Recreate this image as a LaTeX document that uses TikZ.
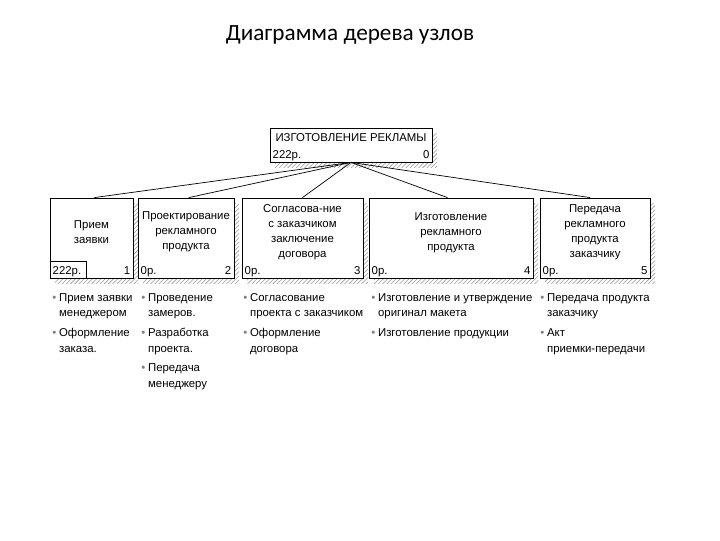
\documentclass[tikz,border=0pt]{standalone}
\usepackage{fontspec}
\setmainfont{Liberation Sans}
\newfontfamily\titlefont{Carlito}
\usetikzlibrary{fit,patterns,shadows}
\newcommand{\bul}{\textcolor{gray}{\textbullet}}

\begin{document}
\begin{tikzpicture}[x=0.025cm,y=-0.025cm]
\tikzset{every node/.style={inner sep=0pt, font=\fontsize{8.1}{11.3}\selectfont},
  hatched/.style={general shadow={pattern=north east lines, pattern color=gray!80,
    shadow xshift=3.6pt, shadow yshift=-3.6pt}},
  box/.style={draw, line width=0.6pt, fill=white, hatched, fit={#1}},
  steps/.style={align=center, font=\fontsize{8.1}{10.6}\selectfont},
  cost/.style={inner sep=0pt},
  items/.style={anchor=base west},
  link/.style={line width=0.5pt}}
\useasboundingbox (0,0) rectangle (720,540);
\node[font=\titlefont\fontsize{16.5}{20}\selectfont] (title) at (350,35) {Диаграмма дерева узлов};
% root
\node[box={(270,128) (432,162)}] (root) {};
\node (rt) at (351,138) {ИЗГОТОВЛЕНИЕ РЕКЛАМЫ};
\node[cost, anchor=base west] (rc) at ([shift={(2pt,2.8pt)}]root.south west) {222р.};
\node[cost, anchor=base east] (rn) at ([shift={(-2pt,2.8pt)}]root.south east) {0};
% children
\node[box={(50,198) (133,278)}] (b1) {};
\node[box={(138,198) (234,278)}] (b2) {};
\node[box={(242,198) (363,278)}] (b3) {};
\node[box={(369,198) (533,278)}] (b4) {};
\node[box={(540,198) (650,278)}] (b5) {};
\draw[link] (root.south) -- ([xshift=2pt]b1.north);
\draw[link] (root.south) -- ([xshift=2pt]b2.north);
\draw[link] (root.south) -- (b3.north);
\draw[link] (root.south) -- ([xshift=-2.5pt]b4.north);
\draw[link] (root.south) -- ([xshift=-3.5pt]b5.north);
\node[steps] (t1) at (91.5,232) {Прием\\заявки};
\node[steps] (t2) at (186,232) {Проектирование\\рекламного\\продукта};
\node[steps] (t3) at (302.5,232) {Согласова-ние\\с заказчиком\\заключение\\договора};
\node[steps] (t4) at (451,233) {Изготовление\\рекламного\\продукта};
\node[steps] (t5) at (595,232) {Передача\\рекламного\\продукта\\заказчику};
\draw[line width=0.5pt] ([yshift=12pt]b1.south west) -| ([xshift=26pt]b1.south west);
\node[cost, anchor=base west] (c1) at ([shift={(2pt,2.8pt)}]b1.south west) {222р.};
\node[cost, anchor=base west] (c2) at ([shift={(2pt,2.8pt)}]b2.south west) {0р.};
\node[cost, anchor=base west] (c3) at ([shift={(2pt,2.8pt)}]b3.south west) {0р.};
\node[cost, anchor=base west] (c4) at ([shift={(2pt,2.8pt)}]b4.south west) {0р.};
\node[cost, anchor=base west] (c5) at ([shift={(2pt,2.8pt)}]b5.south west) {0р.};
\node[cost, anchor=base east] (n1) at ([shift={(-2pt,2.8pt)}]b1.south east) {1};
\node[cost, anchor=base east] (n2) at ([shift={(-2pt,2.8pt)}]b2.south east) {2};
\node[cost, anchor=base east] (n3) at ([shift={(-2pt,2.8pt)}]b3.south east) {3};
\node[cost, anchor=base east] (n4) at ([shift={(-2pt,2.8pt)}]b4.south east) {4};
\node[cost, anchor=base east] (n5) at ([shift={(-2pt,2.8pt)}]b5.south east) {5};
% work lists
\node[items] (l1) at (52,301) {\begin{tabular}[t]{@{}l@{\hspace{2pt}}l@{}}
\bul & Прием заявки\\ & менеджером\\[2.4pt]
\bul & Оформление\\ & заказа.
\end{tabular}};
\node[items] (l2) at (141,301) {\begin{tabular}[t]{@{}l@{\hspace{2pt}}l@{}}
\bul & Проведение\\ & замеров.\\[2.4pt]
\bul & Разработка\\ & проекта.\\[2.4pt]
\bul & Передача\\ & менеджеру
\end{tabular}};
\node[items] (l3) at (243,301) {\begin{tabular}[t]{@{}l@{\hspace{2pt}}l@{}}
\bul & Согласование\\ & проекта с заказчиком\\[2.4pt]
\bul & Оформление\\ & договора
\end{tabular}};
\node[items] (l4) at (371,301) {\begin{tabular}[t]{@{}l@{\hspace{2pt}}l@{}}
\bul & Изготовление и утверждение\\ & оригинал макета\\[2.4pt]
\bul & Изготовление продукции
\end{tabular}};
\node[items] (l5) at (540,301) {\begin{tabular}[t]{@{}l@{\hspace{2pt}}l@{}}
\bul & Передача продукта\\ & заказчику\\[2.4pt]
\bul & Акт\\ & приемки-передачи
\end{tabular}};
\end{tikzpicture}
\end{document}
